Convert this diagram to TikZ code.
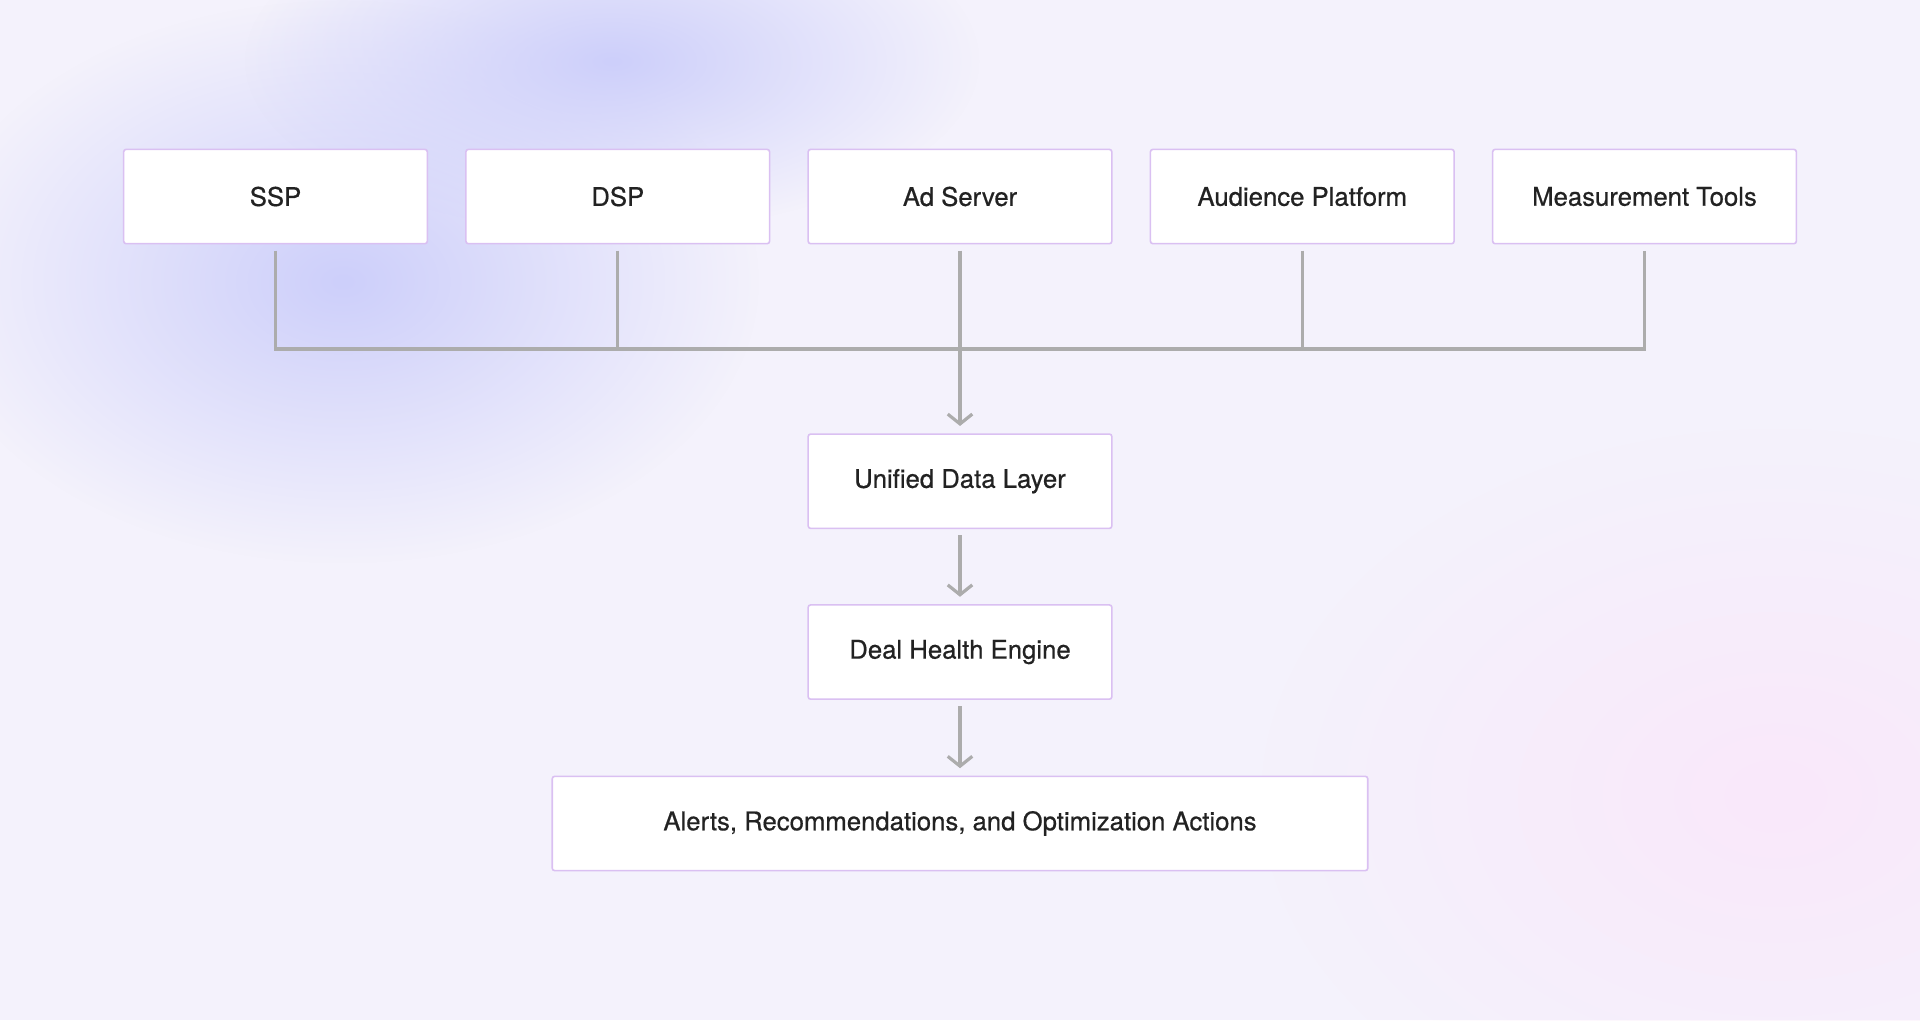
\documentclass[tikz,border=0pt]{standalone}
\usepackage{fontspec}
\setmainfont{TeX Gyre Heros}
\newfontfamily\medfont{TeX Gyre Heros}[FakeBold=0.6]
\usetikzlibrary{arrows.meta,fadings}
\tikzfading[name=blobfade, inner color=transparent!0, outer color=transparent!100]
\definecolor{bg}{RGB}{244,242,252}
\definecolor{blob}{RGB}{205,207,250}
\definecolor{pinkb}{RGB}{250,232,250}
\definecolor{bord}{RGB}{218,192,242}
\definecolor{ln}{RGB}{172,172,172}
\definecolor{tx}{RGB}{34,34,34}
\begin{document}
\begin{tikzpicture}[x=1pt,y=-1pt,
 box/.style={draw=bord,line width=1.3pt,fill=white,rounded corners=2pt,font=\medfont\fontsize{21}{24}\selectfont,text=tx,inner sep=0pt},
 con/.style={draw=ln,line width=2.6pt},
 arr/.style={con,-{Straight Barb[length=8pt,width=20pt,line width=2.6pt]}}]
\useasboundingbox (0,0) rectangle (1568,833);
\fill[bg] (0,0) rectangle (1568,833);
\fill[pinkb,path fading=blobfade] (1450,650) ellipse (420 and 300);
\fill[blob,path fading=blobfade] (280,230) ellipse (340 and 230);
\fill[blob,path fading=blobfade] (500,50) ellipse (300 and 140);
\foreach \n/\x/\t in {ssp/225/SSP,dsp/504.5/DSP,ads/784/Ad Server,aud/1063.5/Audience Platform,mes/1343/Measurement Tools}
  \node[box,minimum width=248pt,minimum height=77pt] (\n) at (\x,160.5) {\t};
\node[box,minimum width=248pt,minimum height=77pt] (udl) at (784,393) {Unified Data Layer};
\node[box,minimum width=248pt,minimum height=77pt] (dhe) at (784,532.5) {Deal Health Engine};
\node[box,minimum width=666pt,minimum height=77pt] (alr) at (784,672.5) {Alerts, Recommendations, and Optimization Actions};
\coordinate (hr) at (1343,285);
\coordinate (hm) at (784,285);
\draw[con] ([yshift=-5pt]ssp.south) |- (hr) -- ([yshift=-5pt]mes.south);
\foreach \n in {dsp,ads,aud} \draw[con] ([yshift=-5pt]\n.south) -- (\n.south |- hm);
\draw[arr] (hm) -- ([yshift=6pt]udl.north);
\draw[arr] ([yshift=-5pt]udl.south) -- ([yshift=6pt]dhe.north);
\draw[arr] ([yshift=-5pt]dhe.south) -- ([yshift=6pt]alr.north);
\end{tikzpicture}
\end{document}
